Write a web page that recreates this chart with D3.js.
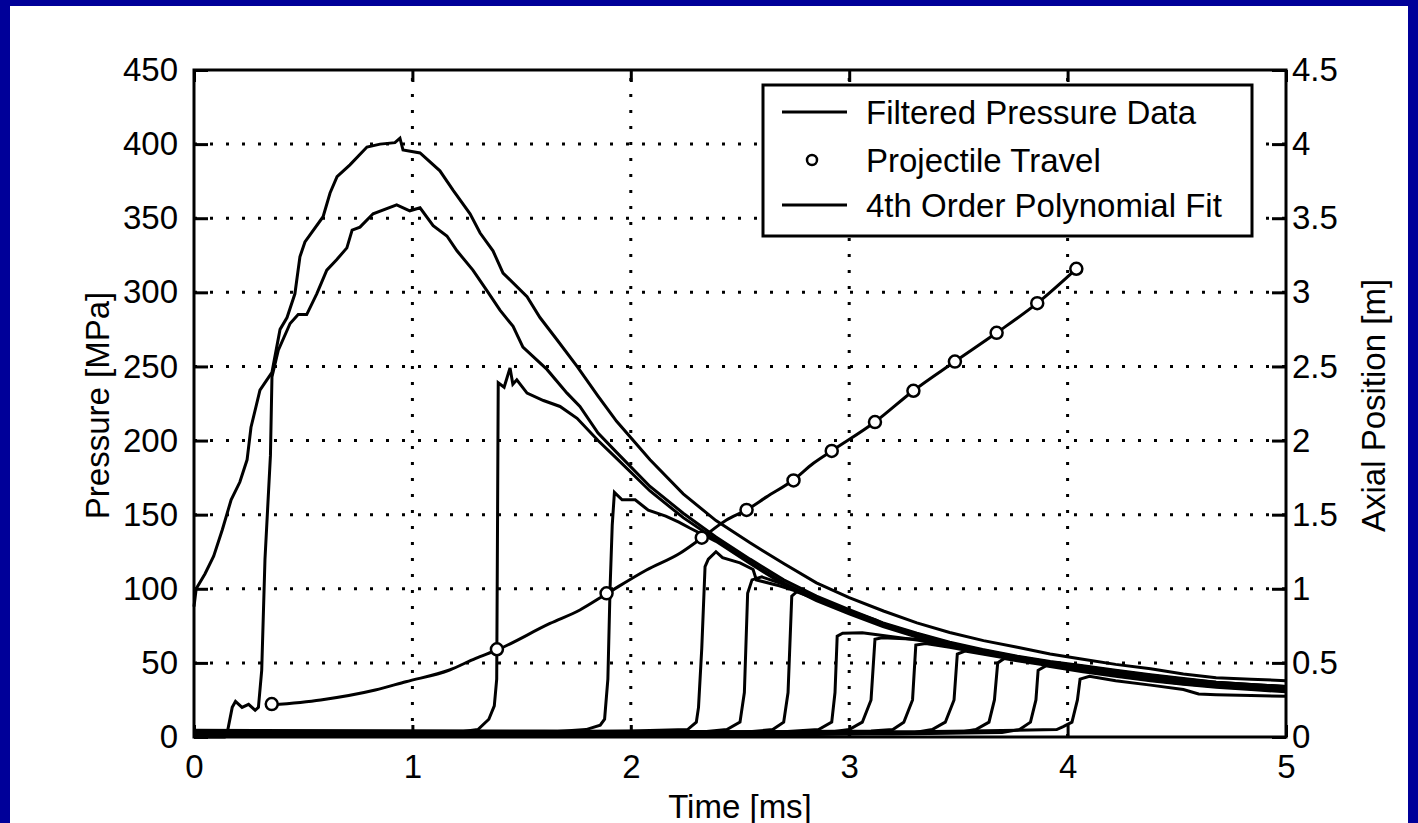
<!DOCTYPE html>
<meta charset="utf-8">
<style>
  body { margin: 0; background: #000099; }
  text { font-family: "Liberation Sans", Arial, sans-serif; font-size: 33px; fill: #000; }
</style>
<body>
<script src="https://d3js.org/d3.v7.min.js"></script>
<script>
  // filtered pressure records, [time (ms), pressure (MPa)], one per gauge
  var gauge1 = [[0,88],[0.01,100],[0.05,110],[0.09,122],[0.13,140],[0.17,160],[0.21,172],[0.243,187],[0.261,209],[0.302,234],[0.357,246],[0.394,275],[0.426,283],[0.462,299],[0.485,324],[0.508,334],[0.591,351],[0.623,367],[0.655,378],[0.714,386],[0.792,398],[0.852,400],[0.92,401],[0.943,404],[0.957,396],[1.035,394],[1.126,382],[1.186,369],[1.264,353],[1.31,340],[1.369,328],[1.415,313],[1.525,297],[1.584,283],[1.662,268],[1.754,250],[1.85,230],[1.935,213],[2.088,187],[2.24,164],[2.39,146],[2.546,131],[2.70,117],[2.85,104],[3.0,94],[3.157,85],[3.31,77],[3.46,70.5],[3.615,65],[3.77,60.5],[3.92,56],[4.07,52.5],[4.22,49],[4.38,46],[4.53,42.5],[4.68,40],[4.84,39],[5.0,38]];
  var gauge2 = [[0,0],[0.14,0],[0.155,5],[0.175,20],[0.19,24],[0.22,20],[0.25,22],[0.28,18],[0.295,20],[0.31,45],[0.325,120],[0.35,190],[0.357,243],[0.386,261],[0.44,279],[0.477,285],[0.516,285],[0.562,299],[0.608,315],[0.653,322],[0.7,330],[0.724,342],[0.76,344],[0.82,353],[0.928,359],[0.988,355],[1.035,357],[1.095,345],[1.158,338],[1.204,328],[1.277,315],[1.342,301],[1.401,288],[1.461,277],[1.506,263],[1.616,248],[1.708,232],[1.767,223],[1.85,205],[1.935,192],[2.088,169],[2.24,151],[2.39,135],[2.546,120],[2.70,106],[2.85,95],[3.0,86],[3.155,77],[3.31,70],[3.46,64],[3.61,59],[3.77,54.5],[3.92,51],[4.07,48],[4.22,45],[4.38,42],[4.53,39.5],[4.68,37],[4.84,35.5],[5.0,34]];
  var gauge3 = [[0,3],[0.5,2],[1.0,3],[1.2,3],[1.3,5],[1.35,12],[1.375,21],[1.386,39],[1.39,150],[1.393,239],[1.42,236],[1.447,249],[1.46,238],[1.478,241],[1.525,232],[1.6,227],[1.676,223],[1.754,215],[1.85,200],[1.935,188],[2.088,166],[2.24,148],[2.39,133],[2.546,118],[2.7,104],[2.85,93],[3.0,84],[3.155,75.5],[3.31,68.5],[3.46,62.5],[3.61,58],[3.77,53.5],[3.92,50],[4.07,47],[4.22,44],[4.38,41],[4.53,38.5],[4.68,36],[4.84,34.5],[5.0,33]];
  var gauge4 = [[0,1.5],[0.6,1],[1.2,2],[1.6,3],[1.795,5],[1.86,8],[1.88,12],[1.895,39],[1.905,100],[1.915,143],[1.925,165],[1.96,160],[2.02,160],[2.08,153],[2.16,149],[2.22,145],[2.27,141],[2.39,132],[2.546,117],[2.7,103],[2.85,92],[3.0,83],[3.155,74.5],[3.31,67.5],[3.46,62],[3.61,57.5],[3.77,53],[3.92,49.5],[4.07,46.5],[4.22,43.5],[4.38,40.5],[4.53,38],[4.68,35.5],[4.84,34],[5.0,32.5]];
  var gauge5 = [[0,4],[0.7,3],[1.5,3],[2.0,4],[2.26,5],[2.3,10],[2.31,20],[2.325,60],[2.34,115],[2.355,120],[2.39,125],[2.42,121],[2.50,117.5],[2.56,113],[2.575,106],[2.68,102],[2.83,95],[2.98,86],[3.12,79],[3.155,76.5],[3.31,69],[3.46,63],[3.61,58.5],[3.77,54],[3.92,50.5],[4.07,47.5],[4.22,44.5],[4.38,41.5],[4.53,39],[4.68,36.5],[4.84,35],[5.0,33.5]];
  var gauge6 = [[0,2.5],[1.0,2],[1.8,2],[2.3,3],[2.44,5],[2.5,10],[2.52,30],[2.535,97],[2.555,106],[2.6,108],[2.7,103],[2.85,94],[3.0,85],[3.155,76.5],[3.31,69.5],[3.46,63.5],[3.61,58.5],[3.77,54],[3.92,50.5],[4.07,47.5],[4.22,44.5],[4.38,41.5],[4.53,39],[4.68,37],[4.84,35.5],[5.0,34]];
  var gauge7 = [[0,1],[1.2,1],[2.0,1.5],[2.5,3],[2.65,5],[2.7,10],[2.72,30],[2.737,95],[2.76,98],[2.85,93],[3.0,84.5],[3.155,76],[3.31,69],[3.46,63],[3.61,58],[3.77,54],[3.92,50.5],[4.07,47.5],[4.22,44],[4.38,41.5],[4.53,39],[4.68,36.5],[4.84,35],[5.0,33.5]];
  var gauge8 = [[0,3.5],[1.4,3],[2.2,3],[2.7,3.5],[2.86,5],[2.92,10],[2.935,30],[2.945,68],[2.97,70],[3.06,70.4],[3.31,65.5],[3.46,62],[3.61,57.5],[3.77,53.5],[3.92,50],[4.07,47],[4.22,43.5],[4.38,40.5],[4.53,38],[4.68,36],[4.84,34.5],[5.0,33]];
  var gauge9 = [[0,2],[1.5,2],[2.4,2],[2.9,3],[3.0,5],[3.06,10],[3.1,25],[3.118,66],[3.15,67],[3.31,66],[3.46,61.5],[3.61,57],[3.77,53],[3.92,49.5],[4.07,46.5],[4.22,43],[4.38,40],[4.53,37.5],[4.68,35.5],[4.84,34],[5.0,32.5]];
  var gauge10 = [[0,4.5],[1.6,4],[2.6,3.5],[3.1,4],[3.2,5],[3.25,10],[3.29,25],[3.305,62],[3.35,63],[3.46,60.5],[3.61,56.5],[3.77,52.5],[3.92,49],[4.07,46],[4.22,42.5],[4.38,39.5],[4.53,37],[4.68,35],[4.84,33.5],[5.0,32]];
  var gauge11 = [[0,1],[1.8,1],[2.8,1.5],[3.3,3],[3.38,5],[3.44,10],[3.48,25],[3.495,56],[3.53,58],[3.61,56],[3.77,52],[3.92,48.5],[4.07,45.5],[4.22,42],[4.38,39],[4.53,36.5],[4.68,34.5],[4.84,33],[5.0,31.5]];
  var gauge12 = [[0,3],[2.0,2.5],[3.0,2.5],[3.5,3],[3.58,5],[3.64,10],[3.665,25],[3.68,50],[3.71,53],[3.77,51.5],[3.92,48],[4.07,45],[4.22,41.5],[4.38,38.5],[4.53,36],[4.68,34],[4.84,32.5],[5.0,31]];
  var gauge13 = [[0,2],[2.2,2],[3.2,2],[3.7,3],[3.78,5],[3.83,10],[3.855,25],[3.865,45],[3.9,48],[3.92,47.5],[4.07,44],[4.22,41],[4.38,38],[4.53,35.5],[4.68,33.5],[4.84,32],[5.0,30.5]];
  var gauge14 = [[0,4],[2.4,3.5],[3.3,3.5],[3.55,4],[3.95,5],[3.98,7],[4.02,10],[4.045,25],[4.057,39],[4.1,41],[4.22,38],[4.38,35],[4.53,32],[4.6,29],[4.68,28.5],[4.84,28],[5.0,27.5]];

  // projectile travel (gauge arrival), time (ms) / axial position (m)
  var travelTime = [0.356, 1.387, 1.889, 2.325, 2.53, 2.745, 2.92, 3.118, 3.294, 3.484, 3.675, 3.861, 4.04];
  var travelPos  = [0.222, 0.592, 0.969, 1.345, 1.532, 1.731, 1.93, 2.125, 2.336, 2.533, 2.727, 2.927, 3.159];

  // polynomial fit curve
  var fitTime = [0.356, 0.58, 0.83, 0.97, 1.17, 1.29, 1.387, 1.63, 1.767, 1.889, 2.072, 2.225, 2.323, 2.438, 2.53, 2.622, 2.744, 2.836, 2.927, 3.118, 3.294, 3.484, 3.675, 3.861, 4.04];
  var fitPos  = [0.216, 0.25, 0.317, 0.373, 0.452, 0.531, 0.587, 0.766, 0.857, 0.966, 1.127, 1.24, 1.341, 1.464, 1.532, 1.62, 1.734, 1.847, 1.937, 2.125, 2.336, 2.533, 2.727, 2.927, 3.159];

  var timeTicks = [0, 1, 2, 3, 4, 5];
  var pressureTicks = [0, 50, 100, 150, 200, 250, 300, 350, 400, 450];
  var positionTicks = [0, 0.5, 1, 1.5, 2, 2.5, 3, 3.5, 4, 4.5];
  var legendLabels = ["Filtered Pressure Data", "Projectile Travel", "4th Order Polynomial Fit"];

  var gauges = [gauge1, gauge2, gauge3, gauge4, gauge5, gauge6, gauge7, gauge8, gauge9, gauge10, gauge11, gauge12, gauge13, gauge14];

  var svg = d3.select("body").append("svg")
      .attr("width", 1418)
      .attr("height", 823)
      .style("display", "block");

  // blue frame, white figure
  svg.append("rect").attr("width", 1418).attr("height", 823).attr("fill", "#000099");
  svg.append("rect").attr("x", 10).attr("y", 6).attr("width", 1398).attr("height", 830).attr("fill", "#fff");

  var plotL = 194, plotR = 1286, plotT = 70, plotB = 737;

  var x = d3.scaleLinear().domain([0, 5]).range([plotL, plotR]);
  var yP = d3.scaleLinear().domain([0, 450]).range([plotB, plotT]);
  var yX = d3.scaleLinear().domain([0, 4.5]).range([plotB, plotT]);

  // dotted grid
  var grid = svg.append("g")
      .attr("stroke", "#000")
      .attr("stroke-width", 3)
      .attr("stroke-dasharray", "3,13");
  grid.selectAll(".gx").data(timeTicks.slice(1, -1)).enter().append("line")
      .attr("x1", function(d) { return x(d); }).attr("x2", function(d) { return x(d); })
      .attr("y1", plotB).attr("y2", plotT);
  grid.selectAll(".gy").data(pressureTicks.slice(1, -1)).enter().append("line")
      .attr("y1", function(d) { return yP(d); }).attr("y2", function(d) { return yP(d); })
      .attr("x1", plotL).attr("x2", plotR);

  // pressure traces
  var pLine = d3.line()
      .x(function(d) { return x(d[0]); })
      .y(function(d) { return yP(d[1]); });

  svg.append("g").selectAll("path").data(gauges).enter().append("path")
      .attr("d", pLine)
      .attr("fill", "none")
      .attr("stroke", "#000")
      .attr("stroke-width", 3)
      .attr("stroke-linejoin", "miter");

  // polynomial fit of projectile travel
  var fitLine = d3.line()
      .x(function(d, i) { return x(fitTime[i]); })
      .y(function(d) { return yX(d); })
      .curve(d3.curveMonotoneX);

  svg.append("path")
      .datum(fitPos)
      .attr("d", fitLine)
      .attr("fill", "none")
      .attr("stroke", "#000")
      .attr("stroke-width", 3);

  svg.append("g").selectAll("circle").data(travelPos).enter().append("circle")
      .attr("cx", function(d, i) { return x(travelTime[i]); })
      .attr("cy", function(d) { return yX(d); })
      .attr("r", 6)
      .attr("fill", "#fff")
      .attr("stroke", "#000")
      .attr("stroke-width", 2.5);

  // axes
  function styleAxis(g) {
    g.select(".domain").remove();
    g.selectAll(".tick line").attr("stroke", "#000").attr("stroke-width", 3);
    g.selectAll(".tick text").attr("fill", "#000").style("font-size", "33px")
        .style("font-family", "'Liberation Sans', Arial, sans-serif");
  }

  svg.append("g")
      .attr("transform", "translate(0," + plotB + ")")
      .call(d3.axisBottom(x).tickValues(timeTicks).tickSize(-12).tickPadding(18).tickFormat(d3.format("d")))
      .call(styleAxis);

  svg.append("g")
      .attr("transform", "translate(0," + plotT + ")")
      .call(d3.axisTop(x).tickValues(timeTicks).tickSize(-12).tickFormat(""))
      .call(styleAxis);

  svg.append("g")
      .attr("transform", "translate(" + plotL + ",0)")
      .call(d3.axisLeft(yP).tickValues(pressureTicks).tickSize(-14).tickPadding(16).tickFormat(d3.format("d")))
      .call(styleAxis);

  svg.append("g")
      .attr("transform", "translate(" + plotR + ",0)")
      .call(d3.axisRight(yX).tickValues(positionTicks).tickSize(-14).tickPadding(6).tickFormat(function(d) { return String(d); }))
      .call(styleAxis);

  svg.append("rect")
      .attr("x", plotL).attr("y", plotT)
      .attr("width", plotR - plotL).attr("height", plotB - plotT)
      .attr("fill", "none")
      .attr("stroke", "#000")
      .attr("stroke-width", 3);

  // axis labels
  svg.append("text")
      .attr("transform", "translate(97," + ((plotT + plotB) / 2 + 2) + ") rotate(-90)")
      .attr("text-anchor", "middle")
      .attr("dominant-baseline", "central")
      .text("Pressure [MPa]");

  svg.append("text")
      .attr("transform", "translate(1373," + ((plotT + plotB) / 2 + 2) + ") rotate(-90)")
      .attr("text-anchor", "middle")
      .attr("dominant-baseline", "central")
      .text("Axial Position [m]");

  svg.append("text")
      .attr("x", (plotL + plotR) / 2)
      .attr("y", 818)
      .attr("text-anchor", "middle")
      .text("Time [ms]");

  // legend
  var legend = svg.append("g");
  legend.append("rect")
      .attr("x", 763).attr("y", 85).attr("width", 489).attr("height", 151)
      .attr("fill", "#fff").attr("stroke", "#000").attr("stroke-width", 3);

  var rows = legend.selectAll(".row").data(legendLabels).enter().append("g")
      .attr("transform", function(d, i) { return "translate(0," + [112, 160, 205][i] + ")"; });

  rows.append("text")
      .attr("x", 866)
      .attr("y", 12)
      .text(function(d) { return d; });

  rows.filter(function(d, i) { return i !== 1; }).append("line")
      .attr("x1", 782).attr("x2", 847)
      .attr("stroke", "#000").attr("stroke-width", 3);

  rows.filter(function(d, i) { return i === 1; }).append("circle")
      .attr("cx", 812).attr("r", 5)
      .attr("fill", "#fff").attr("stroke", "#000").attr("stroke-width", 2.5);
</script>
</body>
